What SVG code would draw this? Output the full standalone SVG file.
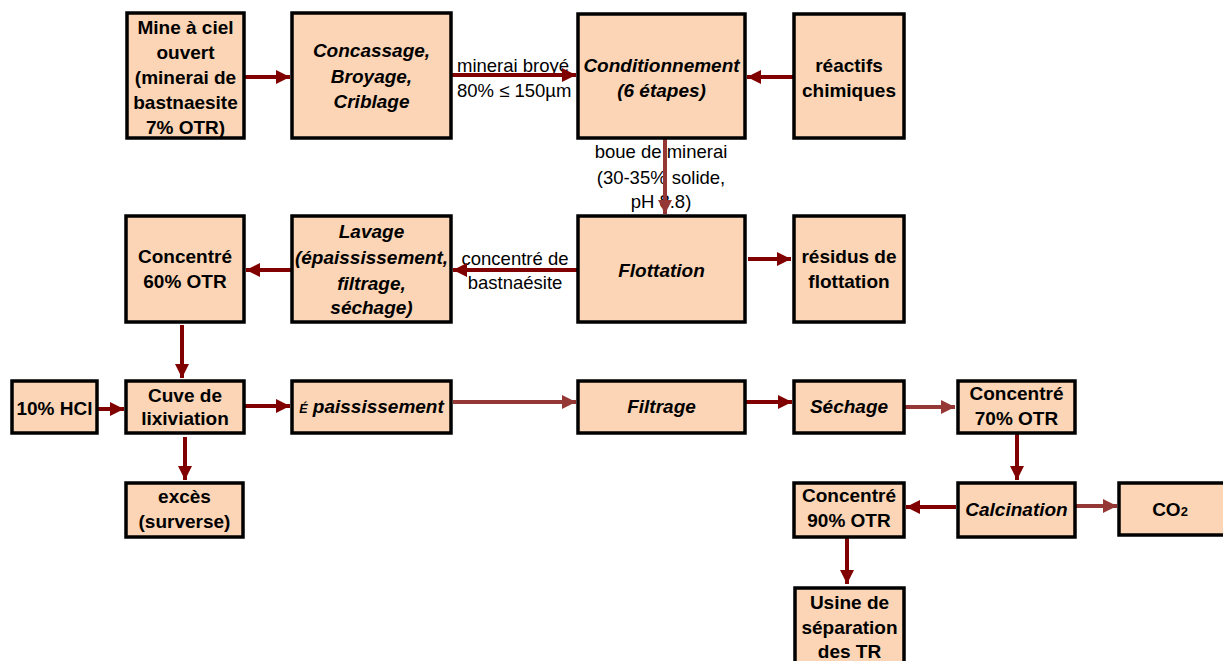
<svg xmlns="http://www.w3.org/2000/svg" width="1223" height="661" viewBox="0 0 1223 661">
  <style>
    .box { fill: #FBD5B5; stroke: #000000; stroke-width: 3.5; }
    .t { font-family: "Liberation Sans", Arial, sans-serif; font-size: 19px; font-weight: bold; fill: #000000; text-anchor: middle; }
    .ti { font-style: italic; }
    .lbl { font-family: "Liberation Sans", Arial, sans-serif; font-size: 18.5px; fill: #000000; }
    .dark { stroke: #800000; stroke-width: 4; fill: none; marker-end: url(#hd); }
    .light { stroke: #953735; stroke-width: 4; fill: none; marker-end: url(#hl); }
  </style>
  <defs>
    <marker id="hd" viewBox="0 0 10 10" refX="10" refY="5" markerWidth="3.6" markerHeight="3.6" markerUnits="strokeWidth" orient="auto">
      <path d="M0,0 L10,5 L0,10 Z" fill="#800000"/>
    </marker>
    <marker id="hl" viewBox="0 0 10 10" refX="10" refY="5" markerWidth="3.6" markerHeight="3.6" markerUnits="strokeWidth" orient="auto">
      <path d="M0,0 L10,5 L0,10 Z" fill="#953735"/>
    </marker>
  </defs>

  <rect width="1223" height="661" fill="#ffffff"/>

  <!-- edge labels (drawn below the connectors) -->
  <g id="edge-labels">
    <text class="lbl" x="457" y="72">minerai broyé</text>
    <text class="lbl" x="457" y="97">80% ≤ 150µm</text>
    <text class="lbl" x="661" y="158" text-anchor="middle">boue de minerai</text>
    <text class="lbl" x="661" y="184" text-anchor="middle">(30-35% solide,</text>
    <text class="lbl" x="661" y="208" text-anchor="middle">pH 8.8)</text>
    <text class="lbl" x="515" y="265" text-anchor="middle">concentré de</text>
    <text class="lbl" x="515" y="289" text-anchor="middle">bastnaésite</text>
  </g>

  <g id="connectors">
    <line class="dark" x1="245" y1="77" x2="290" y2="77"/>
    <line class="dark" x1="452" y1="75" x2="576" y2="75"/>
    <line class="dark" x1="793" y1="77" x2="747" y2="77"/>
    <line class="light" x1="665" y1="138" x2="665" y2="214"/>
    <line class="dark" x1="748" y1="259" x2="791" y2="259"/>
    <line class="dark" x1="577" y1="270" x2="453" y2="270"/>
    <line class="dark" x1="291" y1="270" x2="246" y2="270"/>
    <line class="dark" x1="182" y1="325" x2="182" y2="378"/>
    <line class="dark" x1="97" y1="409" x2="124" y2="409"/>
    <line class="dark" x1="245" y1="406" x2="290" y2="406"/>
    <line class="light" x1="453" y1="402" x2="576" y2="402"/>
    <line class="dark" x1="746" y1="402" x2="792" y2="402"/>
    <line class="light" x1="904" y1="407" x2="955" y2="407"/>
    <line class="dark" x1="185" y1="437" x2="185" y2="480"/>
    <line class="dark" x1="1017" y1="433" x2="1017" y2="480"/>
    <line class="dark" x1="956" y1="507" x2="906" y2="507"/>
    <line class="light" x1="1076" y1="506" x2="1117" y2="506"/>
    <line class="dark" x1="847" y1="537" x2="847" y2="584"/>
  </g>

  <g id="mine">
    <rect class="box" x="127" y="13" width="117" height="125"/>
    <text class="t" x="185.5" y="34">Mine à ciel</text>
    <text class="t" x="185.5" y="59">ouvert</text>
    <text class="t" x="185.5" y="84">(minerai de</text>
    <text class="t" x="185.5" y="109">bastnaesite</text>
    <text class="t" x="185.5" y="134">7% OTR)</text>
  </g>
  <g id="concassage">
    <rect class="box" x="292" y="13" width="159" height="125"/>
    <text class="t ti" x="371.5" y="57">Concassage,</text>
    <text class="t ti" x="371.5" y="83">Broyage,</text>
    <text class="t ti" x="371.5" y="108">Criblage</text>
  </g>
  <g id="conditionnement">
    <rect class="box" x="578" y="14" width="167" height="124"/>
    <text class="t ti" x="661.5" y="72">Conditionnement</text>
    <text class="t ti" x="661.5" y="97">(6 étapes)</text>
  </g>
  <g id="reactifs">
    <rect class="box" x="794" y="14" width="110" height="124"/>
    <text class="t" x="849" y="72">réactifs</text>
    <text class="t" x="849" y="97">chimiques</text>
  </g>

  <g id="concentre60">
    <rect class="box" x="126" y="216" width="118" height="106"/>
    <text class="t" x="185" y="263">Concentré</text>
    <text class="t" x="185" y="288">60% OTR</text>
  </g>
  <g id="lavage">
    <rect class="box" x="292" y="216" width="159" height="106"/>
    <text class="t ti" x="371.5" y="238">Lavage</text>
    <text class="t ti" x="371.5" y="264">(épaississement,</text>
    <text class="t ti" x="371.5" y="290">filtrage,</text>
    <text class="t ti" x="371.5" y="314">séchage)</text>
  </g>
  <g id="flottation">
    <rect class="box" x="578" y="216" width="167" height="106"/>
    <text class="t ti" x="661.5" y="277">Flottation</text>
  </g>
  <g id="residus">
    <rect class="box" x="794" y="216" width="110" height="106"/>
    <text class="t" x="849" y="263">résidus de</text>
    <text class="t" x="849" y="288">flottation</text>
  </g>

  <g id="hcl">
    <rect class="box" x="12" y="381" width="85" height="52"/>
    <text class="t" x="54.5" y="415">10% HCl</text>
  </g>
  <g id="cuve">
    <rect class="box" x="126" y="381" width="118" height="52"/>
    <text class="t" x="185" y="402">Cuve de</text>
    <text class="t" x="185" y="425">lixiviation</text>
  </g>
  <g id="epaississement">
    <rect class="box" x="292" y="381" width="159" height="52"/>
    <text class="t ti" x="371.5" y="413"><tspan font-size="12.5px">É</tspan> paississement</text>
  </g>
  <g id="filtrage">
    <rect class="box" x="578" y="381" width="167" height="52"/>
    <text class="t ti" x="661.5" y="413">Filtrage</text>
  </g>
  <g id="sechage">
    <rect class="box" x="794" y="381" width="110" height="52"/>
    <text class="t ti" x="849" y="413">Séchage</text>
  </g>
  <g id="concentre70">
    <rect class="box" x="958" y="381" width="117" height="52"/>
    <text class="t" x="1016.5" y="400">Concentré</text>
    <text class="t" x="1016.5" y="425">70% OTR</text>
  </g>

  <g id="exces">
    <rect class="box" x="126" y="483" width="117" height="54"/>
    <text class="t" x="184.5" y="503">excès</text>
    <text class="t" x="184.5" y="528">(surverse)</text>
  </g>
  <g id="concentre90">
    <rect class="box" x="794" y="483" width="110" height="54"/>
    <text class="t" x="849" y="502">Concentré</text>
    <text class="t" x="849" y="527">90% OTR</text>
  </g>
  <g id="calcination">
    <rect class="box" x="958" y="483" width="117" height="54"/>
    <text class="t ti" x="1016.5" y="516">Calcination</text>
  </g>
  <g id="co2">
    <rect class="box" x="1119" y="483" width="110" height="52"/>
    <text class="t" x="1170" y="516">CO<tspan font-size="13px">2</tspan></text>
  </g>
  <g id="usine">
    <rect class="box" x="795" y="588" width="109" height="80"/>
    <text class="t" x="849.5" y="609">Usine de</text>
    <text class="t" x="849.5" y="634">séparation</text>
    <text class="t" x="849.5" y="658">des TR</text>
  </g>
</svg>
